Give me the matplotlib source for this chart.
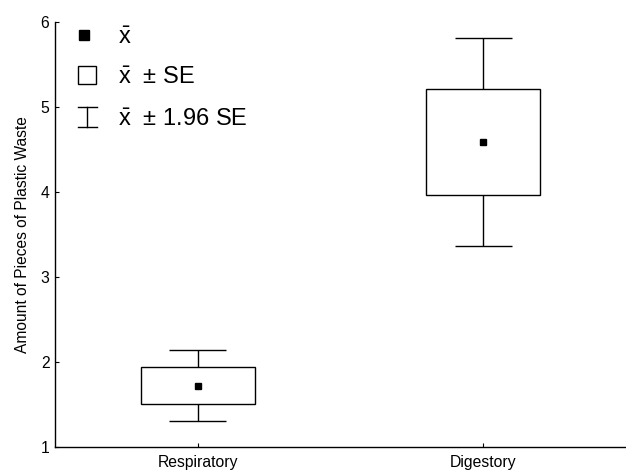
import matplotlib.pyplot as plt
from matplotlib.patches import Rectangle
from matplotlib.lines import Line2D

plt.rcParams['font.family'] = ['Liberation Sans', 'DejaVu Sans']
plt.rcParams['mathtext.fontset'] = 'custom'
plt.rcParams['mathtext.rm'] = 'Liberation Sans'
plt.rcParams['mathtext.it'] = 'Liberation Sans'

# data: group mean and standard error
groups = ["Respiratory", "Digestory"]
means = [1.72, 4.595]
se = [0.215, 0.625]
ci_mult = 1.96

fig = plt.figure(figsize=(6.26, 4.72), dpi=100)
ax = fig.add_axes([55/626, 1 - 446.7/472, 571/626, 424.2/472])

box_w = 0.4
cap_w = 0.2
for i, (m, s) in enumerate(zip(means, se)):
    lo, hi = m - ci_mult*s, m + ci_mult*s
    ax.vlines(i, lo, hi, color='black', lw=1.0, zorder=1)
    ax.hlines([lo, hi], i - cap_w/2, i + cap_w/2, color='black', lw=1.0, zorder=1)
    ax.add_patch(Rectangle((i - box_w/2, m - s), box_w, 2*s,
                           facecolor='white', edgecolor='black', lw=1.0, zorder=2))
    ax.plot(i, m, marker='s', color='black', markersize=4.7, zorder=3)

ax.set_xlim(-0.5, 1.5)
ax.set_ylim(1, 6)
ax.set_xticks(range(len(groups)))
ax.set_xticklabels(groups)
ax.set_yticks([1, 2, 3, 4, 5, 6])
ax.tick_params(direction='in', length=3, width=0.8, labelsize=11.3, pad=4)
ax.tick_params(axis='x', pad=6)
for sp in ['top', 'right']:
    ax.spines[sp].set_visible(False)
for sp in ['left', 'bottom']:
    ax.spines[sp].set_linewidth(1.0)
ax.set_ylabel("Amount of Pieces of Plastic Waste", fontsize=11.2)
ax.yaxis.set_label_coords(-0.044, 0.5)

# hand-drawn legend (axes pixel offsets)
def ax_xy(px, py):
    return (px - 55) / 571, (446.7 - py) / 424.2

tr = ax.transAxes
x0, y0 = ax_xy(84, 35)
ax.add_line(Line2D([x0], [y0], marker='s', color='black', markersize=6.5,
                   transform=tr, clip_on=False))
x1, y1 = ax_xy(87, 75)
ax.add_line(Line2D([x1], [y1], marker='s', markerfacecolor='white',
                   markeredgecolor='black', markeredgewidth=1.0, markersize=13.5,
                   transform=tr, clip_on=False))
x2, y2 = ax_xy(87, 117)
dy = 10 / 424.2
dx = 9.5 / 571
ax.add_line(Line2D([x2, x2], [y2 - dy, y2 + dy], color='black', lw=1.0,
                   transform=tr, clip_on=False))
for yy in (y2 - dy, y2 + dy):
    ax.add_line(Line2D([x2 - dx, x2 + dx], [yy, yy], color='black', lw=1.0,
                       transform=tr, clip_on=False))

tx, _ = ax_xy(118, 0)
xbar = r"$\bar{\mathrm{x}}$"
labels = [xbar, xbar + "  \u00b1 SE", xbar + "  \u00b1 1.96 SE"]
for lab, yy in zip(labels, [y0, y1, y2]):
    ax.text(tx, yy, lab, transform=tr, fontsize=17, va='center_baseline', ha='left')

fig.savefig("out.png", dpi=100)
